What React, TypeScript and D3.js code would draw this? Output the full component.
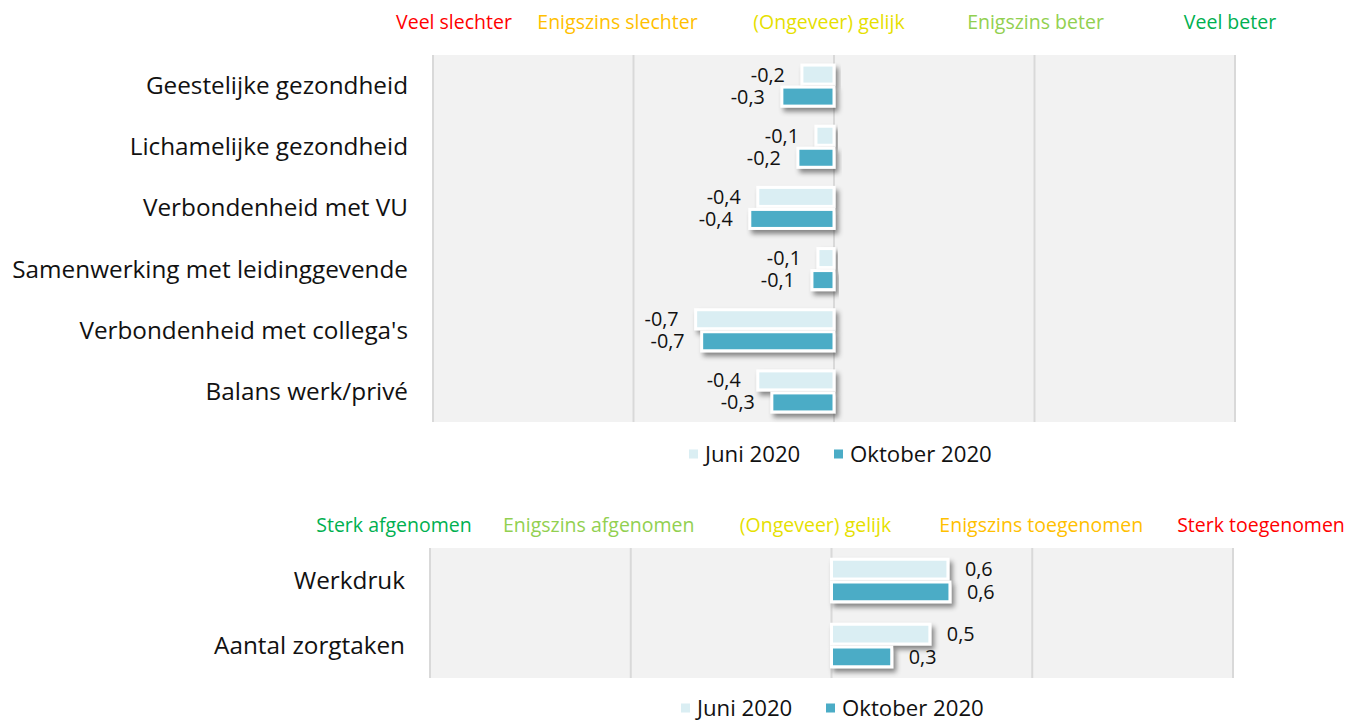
import React from "react";
import * as d3 from "d3";

// ---------- data ----------
const seriesNames = ["Juni 2020", "Oktober 2020"];

const topCategories = [
  "Geestelijke gezondheid",
  "Lichamelijke gezondheid",
  "Verbondenheid met VU",
  "Samenwerking met leidinggevende",
  "Verbondenheid met collega's",
  "Balans werk/privé",
];
const topJuni = [-0.16, -0.09, -0.38, -0.08, -0.69, -0.38];
const topOktober = [-0.26, -0.18, -0.42, -0.11, -0.66, -0.31];
const topScaleLabels = ["Veel slechter", "Enigszins slechter", "(Ongeveer) gelijk", "Enigszins beter", "Veel beter"];

const bottomCategories = ["Werkdruk", "Aantal zorgtaken"];
const bottomJuni = [0.58, 0.49];
const bottomOktober = [0.59, 0.3];
const bottomScaleLabels = ["Sterk afgenomen", "Enigszins afgenomen", "(Ongeveer) gelijk", "Enigszins toegenomen", "Sterk toegenomen"];

const gridValues = [-2, -1, 0, 1, 2];

// ---------- styles ----------
const FONT = "'Open Sans', sans-serif";
const seriesColors = ["#DAEEF3", "#4BACC6"];
const topHeaderColors = ["#FF0000", "#FFC000", "#E6E000", "#92D050", "#00B050"];
const bottomHeaderColors = ["#00B050", "#92D050", "#E6E000", "#FFC000", "#FF0000"];
// header label offsets from their grid line (px)
const topHeaderDx = [21, -16, -5, 1, -5];
const bottomHeaderDx = [-36, -32, -16, 9, 28];

const fmt = (v: number) => (Math.round(v * 10) / 10).toFixed(1).replace(".", ",");

type PanelProps = {
  categories: string[];
  juni: number[];
  okt: number[];
  headers: string[];
  headerColors: string[];
  headerDx: number[];
  x0: number;
  x1: number;
  y0: number;
  y1: number;
  headerY: number;
  labelX: number;
  legendY: number;
  legendX: number;
  barPad: number;
  id: string;
};

function Panel(p: PanelProps) {
  const x = d3.scaleLinear().domain([-2, 2]).range([p.x0, p.x1]);
  const y = d3
    .scaleBand<string>()
    .domain(p.categories)
    .range([p.y0, p.y1])
    .paddingInner(p.barPad)
    .paddingOuter(p.barPad / 2);
  const sub = d3.scaleBand<string>().domain(seriesNames).range([0, y.bandwidth()]);
  const stroke = 3;
  const series = [p.juni, p.okt];
  return (
    <g>
      <rect x={p.x0} y={p.y0} width={p.x1 - p.x0} height={p.y1 - p.y0} fill="#F2F2F2" />
      {gridValues.map((g) => (
        <line key={g} x1={x(g)} x2={x(g)} y1={p.y0} y2={p.y1} stroke="#D9D9D9" strokeWidth={2} />
      ))}
      {p.headers.map((h, i) => (
        <text
          key={h}
          x={x(gridValues[i]) + p.headerDx[i]}
          y={p.headerY}
          dy="0.35em"
          textAnchor="middle"
          fill={p.headerColors[i]}
          fontSize={19.5}
          fontFamily={FONT}
        >
          {h}
        </text>
      ))}
      {p.categories.map((c, ci) => (
        <g key={c}>
          <text
            x={p.labelX}
            y={(y(c) as number) + y.bandwidth() / 2}
            dy="0.35em"
            textAnchor="end"
            fontSize={24.3}
            fontFamily={FONT}
            fill="#111"
          >
            {c}
          </text>
          {seriesNames.map((s, si) => {
            const v = series[si][ci];
            const by = (y(c) as number) + (sub(s) as number) + stroke / 2;
            const bh = sub.bandwidth() - stroke;
            const bx = Math.min(x(0), x(v));
            const bw = Math.abs(x(v) - x(0));
            const neg = v < 0;
            return (
              <g key={s}>
                <rect
                  x={bx}
                  y={by}
                  width={bw}
                  height={bh}
                  fill={seriesColors[si]}
                  stroke="#FFFFFF"
                  strokeWidth={stroke}
                  filter={`url(#shadow-${p.id})`}
                />
                <text
                  x={neg ? x(v) - 17 : x(v) + 17}
                  y={by + bh / 2}
                  dy="0.35em"
                  textAnchor={neg ? "end" : "start"}
                  fontSize={19.8}
                  fontFamily={FONT}
                  fill="#111"
                >
                  {fmt(v)}
                </text>
              </g>
            );
          })}
        </g>
      ))}
      <g transform={`translate(${p.legendX},${p.legendY})`}>
        <rect x={0} y={-4.5} width={9} height={9} fill={seriesColors[0]} />
        <text x={16} y={0} dy="0.35em" fontSize={22.2} fontFamily={FONT} fill="#111">
          {seriesNames[0]}
        </text>
        <rect x={145} y={-4.5} width={9} height={9} fill={seriesColors[1]} />
        <text x={161} y={0} dy="0.35em" fontSize={22.2} fontFamily={FONT} fill="#111">
          {seriesNames[1]}
        </text>
      </g>
    </g>
  );
}

export default function App() {
  return (
    <svg
      width={1351}
      height={721}
      style={{ position: "absolute", left: 0, top: 0, background: "#fff" }}
    >
      <defs>
        {["top", "bottom"].map((id) => (
          <filter key={id} id={`shadow-${id}`} x="-20%" y="-40%" width="140%" height="200%">
            <feDropShadow dx={3} dy={4} stdDeviation={2.5} floodColor="#000" floodOpacity={0.45} />
          </filter>
        ))}
      </defs>
      <Panel
        id="top"
        categories={topCategories}
        juni={topJuni}
        okt={topOktober}
        headers={topScaleLabels}
        headerColors={topHeaderColors}
        headerDx={topHeaderDx}
        x0={433}
        x1={1235}
        y0={55}
        y1={422}
        headerY={22}
        labelX={408}
        legendX={689}
        legendY={454}
        barPad={0.28}
      />
      <Panel
        id="bottom"
        categories={bottomCategories}
        juni={bottomJuni}
        okt={bottomOktober}
        headers={bottomScaleLabels}
        headerColors={bottomHeaderColors}
        headerDx={bottomHeaderDx}
        x0={430}
        x1={1233}
        y0={548}
        y1={678}
        headerY={525}
        labelX={405}
        legendX={681}
        legendY={708}
        barPad={0.3}
      />
    </svg>
  );
}
